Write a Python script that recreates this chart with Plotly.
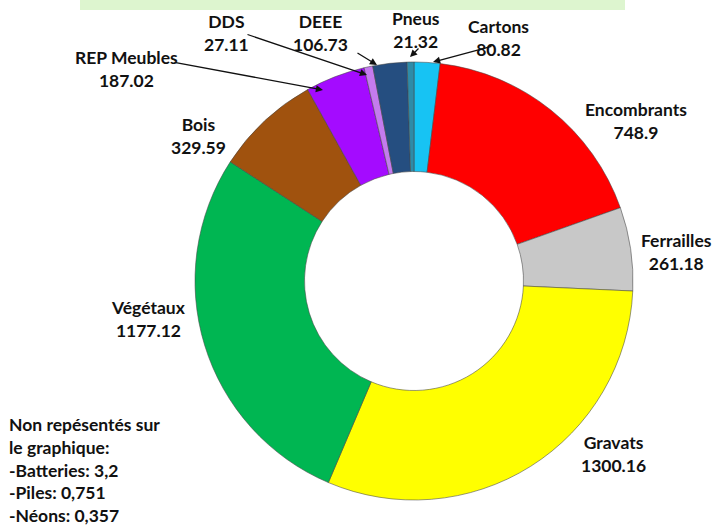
import plotly.graph_objects as go

W, H = 714, 527

categories = ["Cartons", "Encombrants", "Ferrailles", "Gravats", "Végétaux",
              "Bois", "REP Meubles", "DDS", "DEEE", "Pneus"]
values = [80.82, 748.9, 261.18, 1300.16, 1177.12, 329.59, 187.02, 27.11, 106.73, 21.32]
colors = ["#17C3F3", "#FF0000", "#C8C8C8", "#FFFF00", "#00B652",
          "#A0520E", "#A40BFF", "#C47BEE", "#254E80", "#2E8BA8"]
value_labels = ["80.82", "748.9", "261.18", "1300.16", "1177.12", "329.59",
                "187.02", "27.11", "106.73", "21.32"]
note_lines = ["Non repésentés sur", "le graphique:", "-Batteries: 3,2",
              "-Piles: 0,751", "-Néons: 0,357"]

FONT = "Lato"
FS = 17.5

# pie geometry (pixels)
cx, cy, r = 414, 281, 219

fig = go.Figure(go.Pie(
    labels=categories, values=values, sort=False, direction="clockwise",
    rotation=0, hole=0.5, textinfo="none", hoverinfo="label+value",
    marker=dict(colors=colors, line=dict(color="rgba(70,70,70,0.55)", width=1)),
    domain=dict(x=[(cx - r) / W, (cx + r) / W],
                y=[(H - cy - r) / H, (H - cy + r) / H]),
    showlegend=False,
))

def px(x):
    return x / W

def py(y):
    return 1 - y / H

# label positions (text center, pixels)
label_pos = {
    "Cartons": (498, 38), "Encombrants": (636, 121), "Ferrailles": (676, 252),
    "Gravats": (613, 454), "Végétaux": (148, 319), "Bois": (198, 136),
    "REP Meubles": (126, 69), "DDS": (226, 33), "DEEE": (320, 33), "Pneus": (416, 30),
}
ann = []
for cat, val in zip(categories, value_labels):
    x, y = label_pos[cat]
    ann.append(dict(x=px(x), y=py(y), xref="paper", yref="paper",
                    text=f"<b>{cat}</b><br><b>{val}</b>", showarrow=False,
                    font=dict(family=FONT, size=FS, color="#111"),
                    xanchor="center", yanchor="middle", align="center"))

# leader arrows: (head x, head y, tail x, tail y)
arrows = {
    "Cartons": (433, 62, 493, 46),
    "Pneus": (410, 57, 420, 47),
    "DEEE": (377, 65, 356, 52),
    "DDS": (367, 75, 246, 34),
    "REP Meubles": (323, 90, 173, 62),
}
for cat, (hx, hy, tx, ty) in arrows.items():
    ann.append(dict(x=px(hx), y=py(hy), xref="paper", yref="paper",
                    ax=tx - hx, ay=ty - hy, axref="pixel", ayref="pixel",
                    text="", showarrow=True, arrowhead=2, arrowsize=1.1,
                    arrowwidth=1.3, arrowcolor="#111"))

ann.append(dict(x=px(7), y=py(412), xref="paper", yref="paper",
                text="<br>".join(f"<b>{l}</b>" for l in note_lines),
                showarrow=False, xanchor="left", yanchor="top", align="left",
                font=dict(family=FONT, size=FS, color="#111")))

fig.update_layout(
    width=W, height=H, margin=dict(l=0, r=0, t=0, b=0),
    paper_bgcolor="white", plot_bgcolor="white",
    annotations=ann,
    shapes=[dict(type="rect", xref="paper", yref="paper",
                 x0=px(80), x1=px(625), y0=py(10), y1=1.0,
                 fillcolor="#DDF5CF", line=dict(width=0), layer="below")],
)

fig.write_html("out.html", config={"displayModeBar": False},
               post_script="document.body.style.margin='0';")
